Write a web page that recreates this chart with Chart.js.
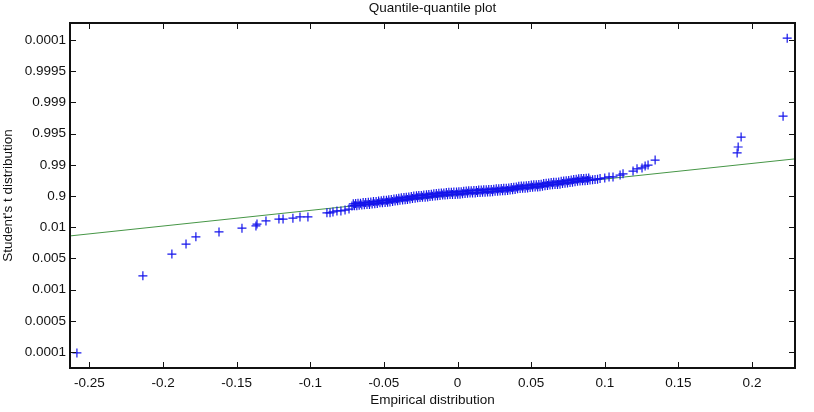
<!DOCTYPE html>
<html>
<head>
<meta charset="utf-8">
<script src="https://cdn.jsdelivr.net/npm/chart.js@4/dist/chart.umd.min.js"></script>
<style>
  html, body { margin: 0; padding: 0; background: #fff; }
  canvas { display: block; }
</style>
</head>
<body>
<canvas id="qq" width="814" height="412"></canvas>
<script>
// Empirical quantiles (x) against Student's t quantiles (y, plotted on an even tick index)
const qqX = [
  -0.2585, -0.2137, -0.1940, -0.1844, -0.1777, -0.1620, -0.1464, -0.1369, -0.1362, -0.1301,
  -0.1213, -0.1185, -0.1118, -0.1070, -0.1016, -0.0887, -0.0866, -0.0846, -0.0819, -0.0792,
  -0.0764, -0.0737,
  -0.0717, -0.0700, -0.0684, -0.0668, -0.0650, -0.0633, -0.0615, -0.0598, -0.0580, -0.0562,
  -0.0545, -0.0527, -0.0510, -0.0492, -0.0475, -0.0459, -0.0441, -0.0424, -0.0407, -0.0391,
  -0.0373, -0.0356, -0.0340, -0.0323, -0.0306, -0.0288, -0.0271, -0.0255, -0.0238, -0.0220,
  -0.0203, -0.0187, -0.0170, -0.0152, -0.0136, -0.0119, -0.0101, -0.0085, -0.0068, -0.0051,
  -0.0034, -0.0016, 0.0001, 0.0017, 0.0034, 0.0051, 0.0068, 0.0085, 0.0102, 0.0120,
  0.0136, 0.0153, 0.0170, 0.0187, 0.0204, 0.0221, 0.0238, 0.0255, 0.0272, 0.0289,
  0.0306, 0.0323, 0.0340, 0.0357, 0.0374, 0.0391, 0.0408, 0.0425, 0.0442, 0.0459,
  0.0476, 0.0493, 0.0510, 0.0527, 0.0544, 0.0560, 0.0577, 0.0594, 0.0611, 0.0628,
  0.0645, 0.0662, 0.0679, 0.0696, 0.0713, 0.0730, 0.0747, 0.0764, 0.0781, 0.0798,
  0.0815, 0.0832, 0.0849, 0.0866, 0.0883, 0.0900, 0.0917, 0.0934, 0.0951, 0.0968,
  0.1000, 0.1029, 0.1056, 0.1104, 0.1124, 0.1192, 0.1219, 0.1253, 0.1274, 0.1294,
  0.1342, 0.1899, 0.1906, 0.1926, 0.2211, 0.2239
];
const qqY = [
  -0.03, 2.44, 3.14, 3.46, 3.69, 3.85, 3.97, 4.04, 4.10, 4.20,
  4.26, 4.26, 4.29, 4.33, 4.33, 4.46, 4.46, 4.49, 4.52, 4.52,
  4.55, 4.58,
  4.68, 4.69, 4.69, 4.70, 4.71, 4.72, 4.73, 4.73, 4.74, 4.75,
  4.76, 4.78, 4.78, 4.79, 4.80, 4.81, 4.82, 4.84, 4.85, 4.86,
  4.87, 4.88, 4.89, 4.90, 4.92, 4.93, 4.94, 4.95, 4.96, 4.96,
  4.97, 4.98, 4.99, 5.00, 5.01, 5.02, 5.03, 5.03, 5.04, 5.05,
  5.05, 5.05, 5.06, 5.06, 5.07, 5.08, 5.09, 5.10, 5.10, 5.10,
  5.11, 5.11, 5.12, 5.12, 5.13, 5.13, 5.14, 5.15, 5.15, 5.16,
  5.17, 5.17, 5.18, 5.19, 5.20, 5.21, 5.23, 5.24, 5.25, 5.25,
  5.26, 5.27, 5.28, 5.29, 5.29, 5.30, 5.31, 5.33, 5.34, 5.35,
  5.36, 5.37, 5.37, 5.38, 5.40, 5.41, 5.42, 5.43, 5.44, 5.46,
  5.47, 5.48, 5.49, 5.49, 5.50, 5.51, 5.52, 5.53, 5.54, 5.56,
  5.58, 5.61, 5.61, 5.67, 5.71, 5.80, 5.87, 5.90, 5.96, 5.99,
  6.15, 6.38, 6.57, 6.89, 7.56, 10.06
];

// Upper edge of the dense central band
const bandX = [
  -0.0708, -0.0692, -0.0676, -0.0659, -0.0641, -0.0624, -0.0606, -0.0589, -0.0571, -0.0553,
  -0.0536, -0.0518, -0.0501, -0.0483, -0.0467, -0.0450, -0.0432, -0.0415, -0.0399, -0.0382,
  -0.0364, -0.0348, -0.0331, -0.0314, -0.0297, -0.0279, -0.0263, -0.0246, -0.0229, -0.0211,
  -0.0195, -0.0178, -0.0161, -0.0144, -0.0127, -0.0110, -0.0093, -0.0076, -0.0059, -0.0042,
  -0.0025, -0.0007, 0.0009, 0.0025, 0.0042, 0.0059, 0.0076, 0.0093, 0.0111, 0.0128,
  0.0144, 0.0161, 0.0178, 0.0195, 0.0212, 0.0229, 0.0246, 0.0263, 0.0280, 0.0297,
  0.0314, 0.0331, 0.0348, 0.0365, 0.0382, 0.0399, 0.0416, 0.0433, 0.0450, 0.0467,
  0.0484, 0.0501, 0.0518, 0.0535, 0.0552, 0.0568, 0.0585, 0.0602, 0.0619, 0.0636,
  0.0653, 0.0670, 0.0687, 0.0704, 0.0721, 0.0738, 0.0755, 0.0772, 0.0789, 0.0806,
  0.0823, 0.0840, 0.0857, 0.0874, 0.0891
];
const bandY = [
  4.75, 4.76, 4.77, 4.77, 4.79, 4.79, 4.80, 4.81, 4.82, 4.82,
  4.84, 4.85, 4.86, 4.86, 4.88, 4.89, 4.90, 4.91, 4.93, 4.94,
  4.95, 4.96, 4.97, 4.98, 5.00, 5.01, 5.02, 5.02, 5.03, 5.04,
  5.05, 5.06, 5.07, 5.08, 5.09, 5.10, 5.10, 5.11, 5.12, 5.12,
  5.13, 5.13, 5.14, 5.14, 5.15, 5.16, 5.17, 5.17, 5.18, 5.18,
  5.19, 5.19, 5.20, 5.20, 5.21, 5.21, 5.22, 5.23, 5.23, 5.24,
  5.25, 5.25, 5.26, 5.27, 5.28, 5.29, 5.31, 5.32, 5.32, 5.33,
  5.34, 5.35, 5.36, 5.36, 5.37, 5.38, 5.40, 5.41, 5.42, 5.43,
  5.44, 5.44, 5.45, 5.47, 5.48, 5.49, 5.50, 5.51, 5.53, 5.54,
  5.55, 5.56, 5.56, 5.57, 5.58
];

// Reference line end points
const fitX = [-0.2632, 0.2292];
const fitY = [3.72, 6.19];

const xTicks = [-0.25, -0.2, -0.15, -0.1, -0.05, 0, 0.05, 0.1, 0.15, 0.2];
const xTickLabels = ['-0.25', '-0.2', '-0.15', '-0.1', '-0.05', '0', '0.05', '0.1', '0.15', '0.2'];
const yTicks = [0, 1, 2, 3, 4, 5, 6, 7, 8, 9, 10];
const yTickLabels = ['0.0001', '0.0005', '0.001', '0.005', '0.01', '0.9', '0.99', '0.995', '0.999', '0.9995', '0.0001'];

const FONT = '"Liberation Sans", Arial, sans-serif';
const BLUE = 'rgb(20,20,235)';

// Box round the plot with MATLAB-style inward ticks on all four sides
const frame = {
  id: 'frame',
  afterDatasetsDraw(chart) {
    const { ctx, chartArea: { left, top, right, bottom }, scales: { x, y } } = chart;
    ctx.save();
    ctx.strokeStyle = '#111';
    ctx.lineWidth = 1;
    ctx.beginPath();
    xTicks.forEach(v => {
      const px = Math.round(x.getPixelForValue(v)) + 0.5;
      ctx.moveTo(px, top); ctx.lineTo(px, top + 6);
      ctx.moveTo(px, bottom); ctx.lineTo(px, bottom - 6);
    });
    yTicks.forEach(v => {
      const py = Math.round(y.getPixelForValue(v)) + 0.5;
      ctx.moveTo(left, py); ctx.lineTo(left + 6, py);
      ctx.moveTo(right, py); ctx.lineTo(right - 6, py);
    });
    ctx.stroke();
    ctx.lineWidth = 2;
    ctx.strokeRect(left, top, right - left, bottom - top);
    ctx.restore();
  }
};

const crossStyle = {
  pointStyle: 'cross',
  pointRadius: 4.5,
  pointBorderWidth: 1.2,
  borderColor: BLUE,
  backgroundColor: BLUE
};

new Chart(document.getElementById('qq'), {
  type: 'scatter',
  data: {
    datasets: [
      {
        label: 'data',
        data: qqX.map((v, i) => ({ x: v, y: qqY[i] })),
        ...crossStyle,
        order: 1
      },
      {
        label: 'band',
        data: bandX.map((v, i) => ({ x: v, y: bandY[i] })),
        ...crossStyle,
        order: 1
      },
      {
        label: 'fit',
        type: 'line',
        data: fitX.map((v, i) => ({ x: v, y: fitY[i] })),
        showLine: true,
        pointRadius: 0,
        borderWidth: 1,
        borderColor: 'rgb(70,150,70)',
        order: 2
      }
    ]
  },
  options: {
    responsive: false,
    animation: false,
    layout: { padding: { left: 0, right: 19, top: 0, bottom: 0 } },
    plugins: {
      legend: { display: false },
      tooltip: { enabled: false },
      title: {
        display: true,
        text: 'Quantile-quantile plot',
        fullSize: false,
        color: '#111',
        font: { family: FONT, size: 13.5, weight: 'normal' },
        padding: { top: 0, bottom: 6.8 }
      }
    },
    scales: {
      x: {
        type: 'linear',
        min: -0.2632,
        max: 0.2292,
        grid: { display: false, drawTicks: false },
        border: { display: false },
        afterBuildTicks: scale => { scale.ticks = xTicks.map(v => ({ value: v })); },
        afterFit: scale => { scale.height = 44; },
        ticks: {
          padding: 7,
          maxRotation: 0,
          color: '#111',
          font: { family: FONT, size: 13.5 },
          callback: (v, i) => xTickLabels[i]
        },
        title: {
          display: true,
          text: 'Empirical distribution',
          color: '#111',
          font: { family: FONT, size: 13.5 },
          padding: { top: 0, bottom: 4 }
        }
      },
      y: {
        type: 'linear',
        min: -0.513,
        max: 10.545,
        grid: { display: false, drawTicks: false },
        border: { display: false },
        afterBuildTicks: scale => { scale.ticks = yTicks.map(v => ({ value: v })); },
        afterFit: scale => { scale.width = 70; },
        ticks: {
          padding: 4,
          color: '#111',
          font: { family: FONT, size: 13.5 },
          callback: (v, i) => yTickLabels[i]
        },
        title: {
          display: true,
          text: "Student's t distribution",
          color: '#111',
          font: { family: FONT, size: 13.5 },
          padding: { top: 0.5, bottom: 0 }
        }
      }
    }
  },
  plugins: [frame]
});
</script>
</body>
</html>
